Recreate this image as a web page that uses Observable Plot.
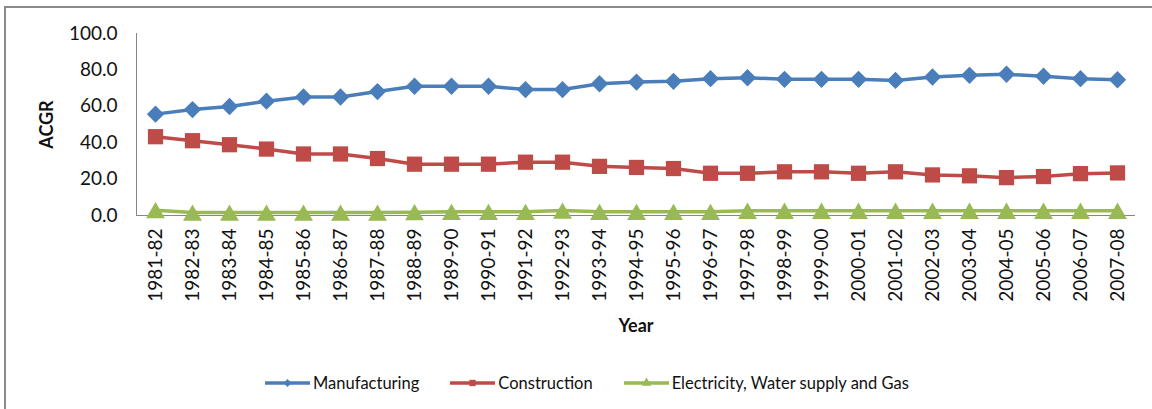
<!DOCTYPE html>
<html>
<head>
<meta charset="utf-8">
<script src="https://cdn.jsdelivr.net/npm/d3@7"></script>
<script src="https://cdn.jsdelivr.net/npm/@observablehq/plot@0.6"></script>
<style>
  body { margin: 0; background: #fff; }
  #chart { position: relative; width: 1152px; height: 409px; overflow: hidden; font-family: Lato, sans-serif; background: #fff; }
  #border { position: absolute; left: 4px; top: 6px; width: 1200px; height: 450px;
            border-left: 2px solid #8a8a8a; border-top: 2px solid #8a8a8a; }
  #plot { position: absolute; left: 0; top: 0; }
  #legend { position: absolute; left: 265px; top: 372px; display: flex; gap: 31px;
            font-size: 16.5px; color: #111; line-height: 22px; }
  #legend .item { display: flex; align-items: center; gap: 3px; }
  #legend svg { display: block; }
</style>
</head>
<body>
<div id="chart">
  <div id="border"></div>
  <div id="plot"></div>
  <div id="legend"></div>
</div>
<script>
// Financial years on the x axis
const years = ["1981-82","1982-83","1983-84","1984-85","1985-86","1986-87","1987-88","1988-89",
  "1989-90","1990-91","1991-92","1992-93","1993-94","1994-95","1995-96","1996-97","1997-98",
  "1998-99","1999-00","2000-01","2001-02","2002-03","2003-04","2004-05","2005-06","2006-07","2007-08"];

// ACGR by sector
const manufacturing = [55.7, 58.2, 59.9, 62.8, 65.1, 65.1, 68.1, 71.0, 71.0, 71.0, 69.2, 69.2, 72.4, 73.3,
  73.7, 75.2, 75.7, 74.8, 74.8, 74.8, 74.2, 76.1, 77.0, 77.6, 76.5, 75.2, 74.6];
const construction = [43.3, 41.1, 38.9, 36.5, 33.8, 33.8, 31.3, 28.2, 28.2, 28.2, 29.3, 29.3, 27.0, 26.4,
  25.8, 23.2, 23.2, 24.0, 24.0, 23.2, 24.0, 22.3, 21.8, 20.8, 21.4, 23.0, 23.4];
const electricity = [2.9, 1.6, 1.6, 1.6, 1.6, 1.6, 1.6, 1.8, 2.0, 2.0, 2.0, 2.7, 2.0, 2.0,
  2.0, 2.0, 2.6, 2.6, 2.6, 2.6, 2.6, 2.6, 2.6, 2.6, 2.6, 2.6, 2.6];

const yTicks = [0, 20, 40, 60, 80, 100];

const series = [
  {name: "Manufacturing", values: manufacturing, color: "#4a7ebb", symbol: "diamond2", r: 7.8, dy: 0},
  {name: "Construction", values: construction, color: "#be4b48", symbol: "square", r: 8.6, dy: 0},
  {name: "Electricity, Water supply and Gas", values: electricity, color: "#98b954", symbol: "triangle", r: 7.0, dy: 2.7}
];

const tables = series.map(s => years.map((year, i) => ({year, value: s.values[i], sector: s.name})));

const axisColor = "#868686";

const chart = Plot.plot({
  width: 1152,
  height: 409,
  marginTop: 33,
  marginBottom: 194,
  marginLeft: 136,
  marginRight: 17,
  style: {fontFamily: "Lato, sans-serif", background: "transparent", color: "#111", overflow: "visible"},
  x: {type: "point", domain: years, padding: 0.5},
  y: {domain: [0, 100]},
  marks: [
    Plot.frame({anchor: "left", stroke: axisColor}),
    Plot.ruleY([0], {stroke: axisColor}),
    Plot.axisY({ticks: yTicks, tickFormat: d => d.toFixed(1), tickSize: 0, tickPadding: 19, fontSize: 19, label: null}),
    Plot.axisX({tickRotate: -90, tickSize: 0, tickPadding: 13, fontSize: 19, label: null}),
    // axis titles
    Plot.text(["ACGR"], {frameAnchor: "left", textAnchor: "middle", lineAnchor: "middle", rotate: -90, dx: -89,
      fontSize: 18, fontWeight: "bold", fill: "#111"}),
    Plot.text(["Year"], {frameAnchor: "bottom", textAnchor: "middle", lineAnchor: "middle", dy: 111,
      fontSize: 18, fontWeight: "bold", fill: "#111"}),
    ...series.map((s, k) => Plot.line(tables[k], {x: "year", y: "value", stroke: s.color, strokeWidth: 3.5})),
    ...series.map((s, k) => Plot.dot(tables[k], {x: "year", y: "value", symbol: s.symbol, r: s.r, fill: s.color, dy: s.dy}))
  ]
});
document.getElementById("plot").appendChild(chart);

// Legend: a short line with a small marker, then the sector name
const legend = d3.select("#legend");
for (const s of series) {
  const item = legend.append("div").attr("class", "item");
  const svg = item.append("svg").attr("width", 45).attr("height", 12);
  svg.append("line").attr("x1", 0).attr("x2", 45).attr("y1", 6).attr("y2", 6)
    .attr("stroke", s.color).attr("stroke-width", 3.5);
  svg.append("path").attr("transform", "translate(22.5,6)")
    .attr("d", d3.symbol(s.symbol === "diamond2" ? d3.symbolDiamond2 : s.symbol === "square" ? d3.symbolSquare : d3.symbolTriangle, 40)())
    .attr("fill", s.color);
  item.append("span").text(s.name);
}
</script>
</body>
</html>
